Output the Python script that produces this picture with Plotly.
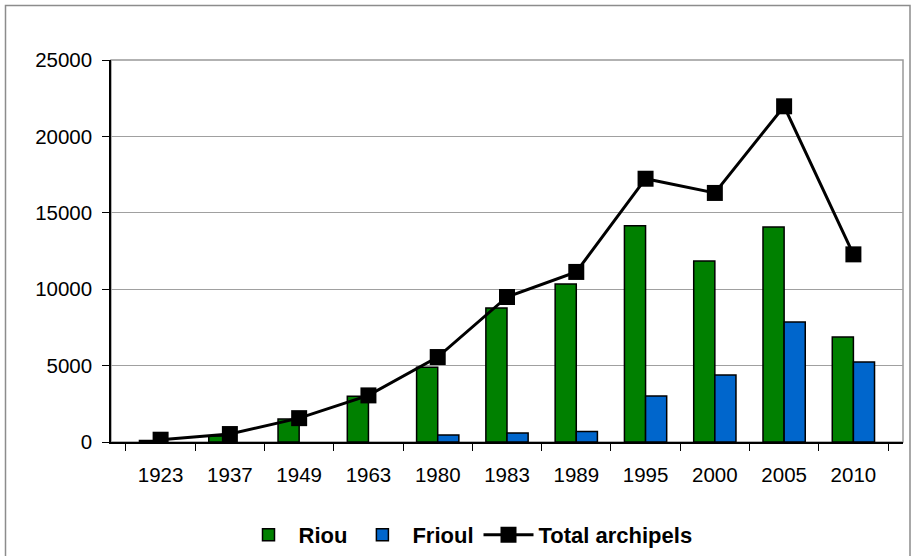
import plotly.graph_objects as go

years = ["1923", "1937", "1949", "1963", "1980", "1983", "1989", "1995", "2000", "2005", "2010"]
riou = [100, 400, 1500, 3000, 4900, 8770, 10340, 14160, 11850, 14070, 6870]
frioul = [None, None, None, None, 460, 590, 680, 3010, 4390, 7850, 5240]
total = [150, 520, 1560, 3050, 5560, 9490, 11130, 17230, 16300, 21970, 12280]
yticks = [0, 5000, 10000, 15000, 20000, 25000]
yticklabels = ["0", "5000", "10000", "15000", "20000", "25000"]

FONT = "Liberation Sans"

fig = go.Figure()
fig.add_trace(go.Bar(x=years, y=riou, name="Riou",
                     marker=dict(color="#008000", line=dict(color="black", width=1.5))))
fig.add_trace(go.Bar(x=years, y=frioul, name="Frioul",
                     marker=dict(color="#0066CC", line=dict(color="black", width=1.5))))
fig.add_trace(go.Scatter(x=years, y=total, name="Total archipels", mode="lines+markers",
                         line=dict(color="black", width=3),
                         marker=dict(symbol="square", size=16, color="black")))

L, R, T, B = 111, 8, 60, 114
W, H = 911, 556
pw, ph = W - L - R, H - T - B

def px2x(p):
    return (p - L) / pw

def px2y(p):
    return (H - B - p) / ph

fig.update_layout(
    width=W, height=H,
    margin=dict(l=L, r=R, t=T, b=B, autoexpand=False),
    paper_bgcolor="white", plot_bgcolor="white",
    barmode="group", bargap=0.39, bargroupgap=0,
    font=dict(family=FONT, size=20.5, color="black"),
    showlegend=True,
    legend=dict(orientation="h", xref="container", yref="container",
                x=468 / W, xanchor="center", y=1 - 535 / H, yanchor="middle",
                font=dict(family=FONT, size=22, color="black", weight="bold"),
                itemwidth=50, tracegroupgap=0),
    xaxis=dict(type="category", tickson="boundaries", ticks="outside", ticklen=7,
               tickcolor="black", showline=True, linecolor="black", linewidth=1.5,
               showgrid=False, tickfont=dict(family=FONT, size=20.5), ticklabelstandoff=14,
               automargin=False, fixedrange=True),
    yaxis=dict(range=[0, 25000], tickvals=yticks, ticktext=yticklabels,
               ticks="outside", ticklen=7, tickcolor="black", showline=True,
               linecolor="black", linewidth=1.5, showgrid=True, gridcolor="#a0a0a0",
               gridwidth=1, zeroline=False, tickfont=dict(family=FONT, size=20.5),
               ticklabelstandoff=6, automargin=False, fixedrange=True),
    shapes=[
        dict(type="rect", xref="paper", yref="paper", x0=px2x(5.5), x1=px2x(910), y0=px2y(5.5), y1=px2y(570),
             line=dict(color="#8c8c8c", width=1.5), layer="below"),
        dict(type="rect", xref="paper", yref="paper", x0=0, x1=1, y0=0, y1=1,
             line=dict(color="#999999", width=1.5), layer="below"),
    ],
)

fig.write_html("out.html", config={"displayModeBar": False},
               post_script="document.body.style.margin='0';document.body.style.overflow='hidden';")
